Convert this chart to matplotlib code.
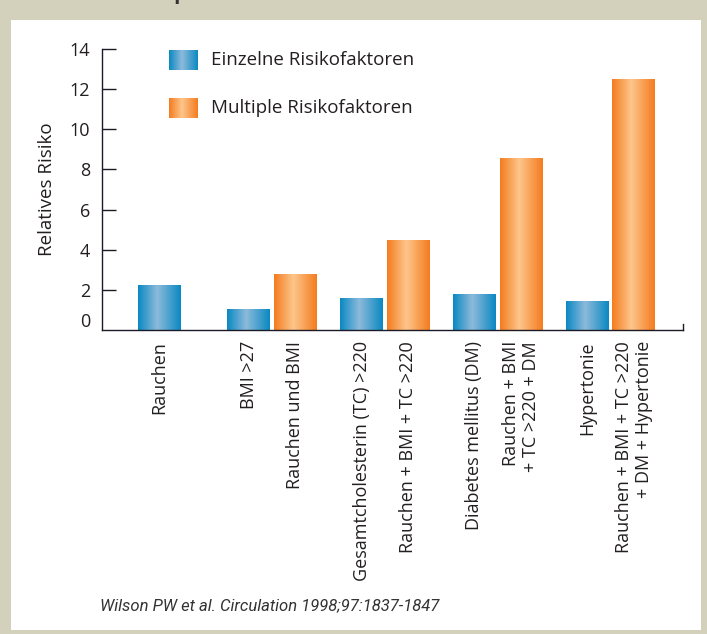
import numpy as np
import matplotlib
matplotlib.use("Agg")
import matplotlib.pyplot as plt
from matplotlib.colors import LinearSegmentedColormap
from matplotlib.patches import Rectangle

plt.rcParams['font.family'] = ['Open Sans', 'DejaVu Sans']

# Daten
single_labels = ["Rauchen", "BMI >27", "Gesamtcholesterin (TC) >220",
                 "Diabetes mellitus (DM)", "Hypertonie"]
single_vals = [2.25, 1.05, 1.6, 1.8, 1.45]
multi_labels = [None, "Rauchen und BMI", "Rauchen + BMI + TC >220",
                "Rauchen + BMI\n+ TC >220 + DM",
                "Rauchen + BMI + TC >220\n+ DM + Hypertonie"]
multi_vals = [None, 2.8, 4.5, 8.55, 12.5]
yticks = [2, 4, 6, 8, 10, 12, 14]

TXT = '#231f20'
BG = '#d3d0bb'
blue_cm = LinearSegmentedColormap.from_list(
    'b', [(0, '#0a89c2'), (0.45, '#8dbadb'), (1, '#0a89c2')])
orange_cm = LinearSegmentedColormap.from_list(
    'o', [(0, '#f47c1f'), (0.45, '#fdc68b'), (1, '#f47c1f')])
grad = np.linspace(0, 1, 200).reshape(1, -1)

W, H = 707, 634
fig = plt.figure(figsize=(W / 100, H / 100), dpi=100)
fig.patch.set_facecolor(BG)
# weisses Feld
fig.patches.append(Rectangle((11 / W, 1 - 630 / H), 690 / W, 610 / H,
                             transform=fig.transFigure, facecolor='white',
                             edgecolor='none', zorder=-5))
# Titel oben (im Original abgeschnitten)
fig.text(43 / W, 1 + 0.5 / H, "Abb. 1: Multiple Risikofaktoren",
         fontsize=15, fontweight='bold', color='#333333', va='baseline')

ax = fig.add_axes([102 / W, 1 - 330 / H, 581 / W, 281 / H])
ax.set_facecolor('none')

off, bw = 0.207, 0.38
xs_s, xs_m, mv = [], [], []
for i in range(len(single_vals)):
    if multi_vals[i] is None:
        xs_s.append(i)
    else:
        xs_s.append(i - off)
        xs_m.append(i + off)
        mv.append(multi_vals[i])

bars_s = ax.bar(xs_s, single_vals, width=bw, color='none', zorder=2)
bars_m = ax.bar(xs_m, mv, width=bw, color='none', zorder=2)
for bars, cm in [(bars_s, blue_cm), (bars_m, orange_cm)]:
    for p in bars:
        x0, y0 = p.get_x(), p.get_y()
        im = ax.imshow(grad, cmap=cm, aspect='auto', interpolation='bilinear',
                       extent=(x0, x0 + p.get_width(), y0, y0 + p.get_height()),
                       zorder=2)
        im.set_clip_path(p)

ax.set_xlim(-0.508, 4.642)
ax.set_ylim(0, 14)
ax.set_aspect('auto')

ax.spines['top'].set_visible(False)
for s in ['left', 'bottom', 'right']:
    ax.spines[s].set_color('#1c1a26')
    ax.spines[s].set_linewidth(1.0)
ax.spines['right'].set_bounds(0, 0.3)

ax.set_yticks(yticks)
ax.tick_params(axis='y', direction='in', length=10, width=1.0, color='#1c1a26',
               pad=8.5, labelsize=13, labelcolor=TXT)
ax.annotate('0', xy=(0, 0), xycoords=('axes fraction', 'data'),
            xytext=(-12, 8), textcoords='offset pixels', ha='right', va='center',
            fontsize=13, color=TXT)

ticks = xs_s + xs_m
labels = single_labels + [l for l in multi_labels if l is not None]
ax.set_xticks(ticks)
ax.set_xticklabels(labels, rotation=90, ha='center', va='top',
                   multialignment='right', fontsize=13, color=TXT,
                   linespacing=1.15)
ax.tick_params(axis='x', length=0, pad=8)

ax.set_ylabel("Relatives Risiko", fontsize=13.5, color=TXT, labelpad=10)

# Legende
for yy, cm, txt in [(50, blue_cm, "Einzelne Risikofaktoren"),
                    (98, orange_cm, "Multiple Risikofaktoren")]:
    sw = fig.add_axes([169 / W, 1 - (yy + 20) / H, 29 / W, 20 / H])
    sw.imshow(grad, cmap=cm, aspect='auto', interpolation='bilinear')
    sw.axis('off')
    fig.text(211 / W, 1 - (yy + 10) / H, txt, fontsize=13.5, color=TXT,
             va='center')

fig.text(100 / W, 1 - 606 / H, "Wilson PW et al. Circulation 1998;97:1837-1847",
         family=['Roboto', 'DejaVu Sans'], style='italic',
         fontsize=12, color='#333333', va='center')

fig.savefig('out.png', dpi=100, facecolor=BG)
